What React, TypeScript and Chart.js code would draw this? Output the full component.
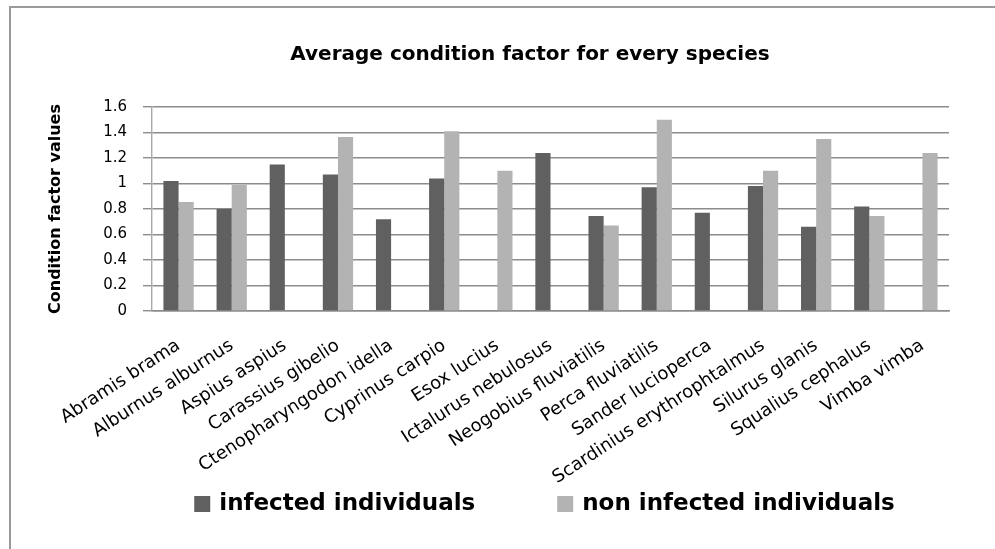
import { useEffect, useRef } from "react";
import { Chart, registerables } from "chart.js";

Chart.register(...registerables);

const chartTitle = "Average condition factor for every species";
const yAxisTitle = "Condition factor values";
const categories = [
  "Abramis brama",
  "Alburnus alburnus",
  "Aspius aspius",
  "Carassius gibelio",
  "Ctenopharyngodon idella",
  "Cyprinus carpio",
  "Esox lucius",
  "Ictalurus nebulosus",
  "Neogobius fluviatilis",
  "Perca fluviatilis",
  "Sander lucioperca",
  "Scardinius erythrophtalmus",
  "Silurus glanis",
  "Squalius cephalus",
  "Vimba vimba",
];
const infected = [1.02, 0.8, 1.15, 1.07, 0.72, 1.04, null, 1.24, 0.745, 0.97, 0.77, 0.98, 0.66, 0.82, null];
const nonInfected = [0.855, 0.99, null, 1.365, null, 1.41, 1.1, null, 0.67, 1.5, null, 1.1, 1.35, 0.745, 1.24];
const seriesNames = ["infected individuals", "non infected individuals"];
const seriesColors = ["#606060", "#b3b3b3"];
const yMin = 0;
const yMax = 1.6;
const yStep = 0.2;

const titlePlugin = {
  id: "placedTitle",
  afterDraw(chart: any) {
    const ctx = chart.ctx;
    ctx.save();
    ctx.font = "bold 20px 'DejaVu Sans', sans-serif";
    ctx.fillStyle = "#000";
    ctx.textAlign = "center";
    ctx.textBaseline = "middle";
    ctx.fillText(chartTitle, 530, 55);
    ctx.restore();
  },
};

const legendPlugin = {
  id: "bottomLegend",
  afterDraw(chart: any) {
    const ctx = chart.ctx;
    const box = 16;
    const textGap = 9;
    const itemGap = 82;
    const cy = 503;
    const cx = (chart.chartArea.left + chart.chartArea.right) / 2 - 6;
    ctx.save();
    ctx.font = "bold 23px 'DejaVu Sans', sans-serif";
    ctx.textBaseline = "middle";
    ctx.textAlign = "left";
    const items = chart.data.datasets.map((ds: any) => ({
      text: ds.label as string,
      color: ds.backgroundColor as string,
      w: box + textGap + ctx.measureText(ds.label).width,
    }));
    const total = items.reduce((s: number, it: any) => s + it.w, 0) + itemGap * (items.length - 1);
    let x = cx - total / 2;
    for (const it of items) {
      ctx.fillStyle = it.color;
      ctx.fillRect(x, cy - box / 2 + 1, box, box);
      ctx.fillStyle = "#000";
      ctx.fillText(it.text, x + box + textGap, cy + 1);
      x += it.w + itemGap;
    }
    ctx.restore();
  },
};

export default function App() {
  const ref = useRef<HTMLCanvasElement | null>(null);

  useEffect(() => {
    document.body.style.margin = "0";
    const canvas = ref.current;
    if (!canvas) return;
    const chart = new Chart(canvas, {
      type: "bar",
      data: {
        labels: categories,
        datasets: [
          {
            label: seriesNames[0],
            data: infected,
            backgroundColor: seriesColors[0],
            categoryPercentage: 0.57,
            barPercentage: 1.0,
          },
          {
            label: seriesNames[1],
            data: nonInfected,
            backgroundColor: seriesColors[1],
            categoryPercentage: 0.57,
            barPercentage: 1.0,
          },
        ],
      },
      options: {
        responsive: false,
        animation: false,
        layout: { padding: { left: 10, right: 46, top: 107, bottom: 63 } },
        plugins: {
          title: { display: false },
          tooltip: { enabled: false },
          legend: { display: false },
        },
        scales: {
          x: {
            grid: { display: false, drawTicks: false },
            border: { display: true, color: "#8c8c8c", width: 1.5 },
            ticks: {
              autoSkip: false,
              minRotation: 33,
              maxRotation: 33,
              padding: 24,
              color: "#000",
              font: { family: "'DejaVu Sans', sans-serif", size: 18 },
            },
            afterFit(scale: any) {
              scale.height = 175;
            },
          },
          y: {
            min: yMin,
            max: yMax,
            ticks: {
              stepSize: yStep,
              autoSkip: false,
              padding: 16,
              color: "#000",
              font: { family: "'DejaVu Sans', sans-serif", size: 15 },
              callback: (v: any) => String(Number(Number(v).toFixed(1))),
            },
            grid: { color: "#8c8c8c", lineWidth: 1.4, tickLength: 9, drawTicks: true },
            border: { display: true, color: "#a8a8a8", width: 1.4 },
            title: {
              display: true,
              text: yAxisTitle,
              color: "#000",
              padding: { top: 36, bottom: 0 },
              font: { family: "'DejaVu Sans', sans-serif", size: 16, weight: "bold" },
            },
            afterFit(scale: any) {
              scale.width = 142;
            },
          },
        },
      },
      plugins: [titlePlugin, legendPlugin],
    });
    return () => chart.destroy();
  }, []);

  return (
    <div style={{ position: "relative", width: 995, height: 549, background: "#fff" }}>
      <div
        style={{
          position: "absolute",
          left: 9,
          top: 6,
          width: 984,
          height: 541,
          borderTop: "2px solid #9a9a9a",
          borderLeft: "2px solid #9a9a9a",
        }}
      />
      <canvas ref={ref} width={995} height={549} style={{ position: "absolute", left: 0, top: 0 }} />
    </div>
  );
}
